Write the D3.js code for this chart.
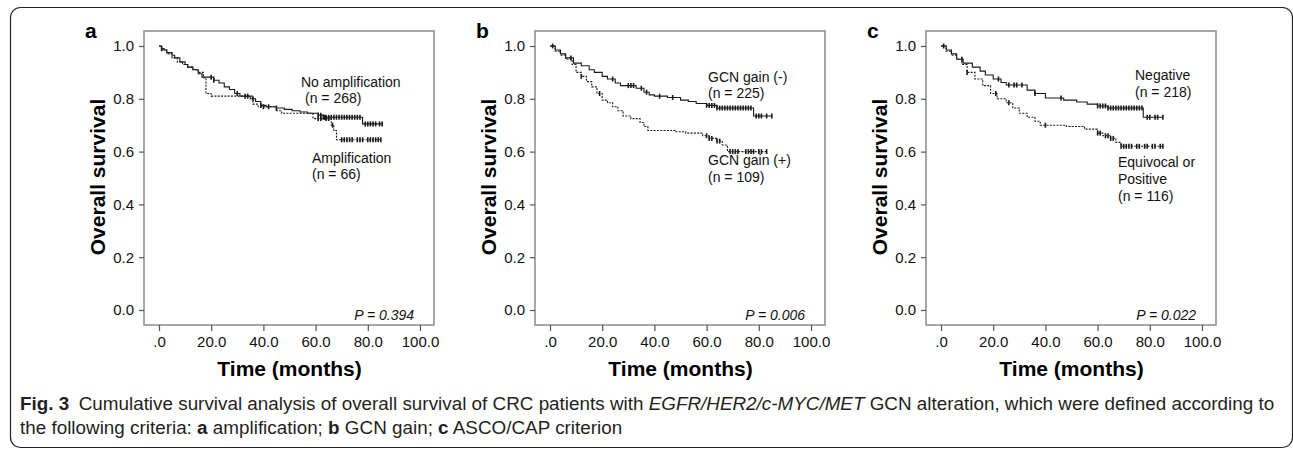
<!DOCTYPE html>
<html lang="en">
<head>
<meta charset="UTF-8">
<title>Fig. 3 Kaplan-Meier curves</title>
<script src="https://d3js.org/d3.v7.min.js"></script>
<style>
    body { margin: 0; background: #fff; }
    svg text { font-family: 'Liberation Sans', Arial, sans-serif; }
</style>
</head>
<body>
<svg id="fig" width="1293" height="449"></svg>
<script>
// ---- data: [months, survival] at each event ----
const panelIds = ["a", "b", "c"];
const pValues = ["0.394", "0.006", "0.022"];
const xTicks = [0, 20, 40, 60, 80, 100];
const yTicks = [0, 0.2, 0.4, 0.6, 0.8, 1.0];

// panel a
const aSolid = [[0,1],[1,0.99],[2,0.985],[3,0.975],[5,0.965],[6,0.955],[8,0.94],[10,0.93],[11,0.92],[13,0.91],[15,0.895],[16.5,0.882],[21,0.87],[23,0.86],[25,0.845],[27,0.835],[29,0.82],[31,0.81],[35,0.8],[37,0.79],[39,0.775],[41,0.77],[45,0.765],[48,0.76],[51,0.755],[54,0.75],[57,0.745],[61,0.738],[63,0.73],[78,0.705]];
const aSolidCens = [1,20,21,30,33,34,36,39,45,61,62,63,63.5,64,65,66,67,68,69,70,71,72,73,74,75,76,77,79,80,81,82,83,84.5,85.5];
const aDashed = [[0,1],[1,0.985],[3,0.97],[5,0.955],[7,0.94],[9,0.93],[11,0.92],[13,0.91],[15,0.9],[17,0.88],[18,0.82],[20,0.81],[36,0.78],[38,0.77],[45,0.755],[47,0.745],[59,0.725],[66,0.7],[67,0.68],[68,0.645]];
const aDashedCens = [40,42,61,62,64,65,66.5,70,71,72,73,74,76,77,78,80,81,82,83,84,85];

// panel b
const bSolid = [[0,1],[2,0.985],[4,0.97],[6,0.955],[9,0.935],[12,0.925],[15,0.91],[17,0.9],[20,0.885],[22,0.875],[25,0.86],[27,0.85],[33,0.84],[36,0.825],[38,0.815],[40,0.81],[45,0.805],[50,0.795],[53,0.79],[56,0.782],[60,0.775],[64,0.765],[78,0.735]];
const bSolidCens = [1,8,24,30,31,32,35,37,42,47,60,61,62,63,64,65,66,67,68,69,70,71,72,73,74,75,76,77,79,80,81,83,85];
const bDashed = [[0,1],[2,0.98],[4,0.965],[6,0.95],[8.5,0.93],[10,0.9],[12,0.885],[14,0.865],[16,0.845],[18,0.82],[20,0.795],[22,0.785],[24,0.77],[26,0.755],[28,0.735],[31,0.725],[34.5,0.71],[36,0.695],[37.5,0.68],[48,0.675],[52,0.67],[58.5,0.66],[61,0.65],[64,0.64],[66,0.625],[68,0.6]];
const bDashedCens = [12,19,60,61,62,64,65,69,70,71,72,75,76,77,78,80,81,83];

// panel c
const cSolid = [[0,1],[2,0.985],[4,0.97],[6,0.95],[8.5,0.935],[12,0.92],[15,0.905],[17,0.89],[20,0.875],[23,0.862],[25,0.852],[33,0.833],[36,0.82],[40,0.803],[47,0.795],[52,0.788],[56,0.78],[60,0.773],[64,0.765],[77.5,0.73]];
const cSolidCens = [1,8,22,26,28,29,31,36,46,60,61,62,63,64,65,66,67,68,69,70,71,72,73,74,75,76,77,79,80,82,83,85];
const cDashed = [[0,1],[2,0.98],[4,0.965],[6,0.95],[8,0.93],[10,0.9],[13,0.875],[16,0.85],[19,0.82],[21.5,0.8],[25,0.785],[27.5,0.765],[30,0.745],[33,0.73],[36,0.715],[38,0.7],[48,0.695],[55,0.685],[60,0.67],[62,0.66],[65,0.65],[67,0.635],[69,0.62]];
const cDashedCens = [10,21,26,40,60,61,63,64,65,66,69,70,71,72,73,75,76,78,79,81,82,84,85];

const solidSeries = [aSolid, bSolid, cSolid];
const solidCens = [aSolidCens, bSolidCens, cSolidCens];
const dashedSeries = [aDashed, bDashed, cDashed];
const dashedCens = [aDashedCens, bDashedCens, cDashedCens];

// group labels: [text, x, baseline] relative to each panel
const groupLabels = [
    [["No amplification", 301, 87], ["(n = 268)", 305, 103], ["Amplification", 312, 163], ["(n = 66)", 312, 179]],
    [["GCN gain (-)", 317, 82], ["(n = 225)", 317, 98], ["GCN gain (+)", 317, 165], ["(n = 109)", 317, 182]],
    [["Negative", 353, 80], ["(n = 218)", 353, 97], ["Equivocal or", 336, 167], ["Positive", 336, 184], ["(n = 116)", 336, 201]]
];

const svg = d3.select("#fig");
const panelStep = 391;
const frame = { left: 144, right: 434, top: 31, bottom: 325 };

// outer rounded box
svg.append("rect")
    .attr("x", 10.5).attr("y", 7.5)
    .attr("width", 1282).attr("height", 440)
    .attr("rx", 10)
    .attr("fill", "none").attr("stroke", "#222").attr("stroke-width", 1.2);

const x = d3.scaleLinear().domain([0, 100]).range([159, 420]);
const y = d3.scaleLinear().domain([0, 1]).range([310, 46]);

const line = d3.line()
    .x(d => x(d[0]))
    .y(d => y(d[1]))
    .curve(d3.curveStepAfter);

const bis = d3.bisector(d => d[0]).right;
function survAt(series, t) {
    return series[Math.max(0, bis(series, t) - 1)][1];
}
function withTail(series, cens) {
    const last = series[series.length - 1];
    const end = d3.max(cens);
    return end > last[0] ? series.concat([[end, last[1]]]) : series;
}

panelIds.forEach((id, i) => {
    const g = svg.append("g").attr("transform", `translate(${i * panelStep},0)`);

    g.append("rect")
        .attr("x", frame.left).attr("y", frame.top)
        .attr("width", frame.right - frame.left)
        .attr("height", frame.bottom - frame.top)
        .attr("fill", "none").attr("stroke", "#8a8a8a").attr("stroke-width", 1.5);

    const yAxis = g.append("g")
        .attr("transform", `translate(${frame.left},0)`)
        .call(d3.axisLeft(y).tickValues(yTicks).tickFormat(d3.format(".1f")).tickSize(5).tickPadding(5));
    const xAxis = g.append("g")
        .attr("transform", `translate(0,${frame.bottom})`)
        .call(d3.axisBottom(x).tickValues(xTicks).tickFormat(d => d === 0 ? ".0" : d.toFixed(1)).tickSize(6).tickPadding(5));
    [yAxis, xAxis].forEach(ax => {
        ax.select(".domain").remove();
        ax.selectAll("line").attr("stroke", "#555").attr("stroke-width", 1.2);
        ax.selectAll("text").attr("font-size", 15).attr("fill", "#111");
    });

    // curves
    const curves = [
        { data: dashedSeries[i], cens: dashedCens[i], dash: "2,1.3" },
        { data: solidSeries[i], cens: solidCens[i], dash: null }
    ];
    curves.forEach(c => {
        const full = withTail(c.data, c.cens);
        g.append("path")
            .attr("d", line(full))
            .attr("fill", "none")
            .attr("stroke", "#1a1a1a")
            .attr("stroke-width", 1.1)
            .attr("stroke-dasharray", c.dash);
        g.selectAll(null)
            .data(c.cens)
            .join("line")
            .attr("x1", t => x(t)).attr("x2", t => x(t))
            .attr("y1", t => y(survAt(c.data, t)) - 2.5)
            .attr("y2", t => y(survAt(c.data, t)) + 2.5)
            .attr("stroke", "#1a1a1a").attr("stroke-width", 1.6);
    });

    groupLabels[i].forEach(([txt, lx, ly]) => {
        g.append("text").attr("x", lx).attr("y", ly)
            .attr("font-size", 14).attr("fill", "#111").text(txt);
    });

    g.append("text")
        .attr("x", 414).attr("y", 320)
        .attr("text-anchor", "end")
        .attr("font-size", 14).attr("font-style", "italic").attr("fill", "#111")
        .text(`P = ${pValues[i]}`);

    // panel letter
    g.append("text").attr("x", 85).attr("y", 38)
        .attr("font-size", 21).attr("font-weight", "bold").text(id);

    // axis titles
    g.append("text")
        .attr("transform", "translate(105,177) rotate(-90)")
        .attr("text-anchor", "middle")
        .attr("font-size", 21).attr("font-weight", "bold")
        .text("Overall survival");
    g.append("text")
        .attr("x", x(50)).attr("y", 376)
        .attr("text-anchor", "middle")
        .attr("font-size", 21).attr("font-weight", "bold")
        .text("Time (months)");
});

// caption, squeezed to the width of the original condensed type
const cap = svg.append("g").attr("class", "caption")
    .attr("fill", "#231f20").attr("font-size", 18.5);

const l1 = cap.append("text").attr("x", 0).attr("y", 410);
l1.append("tspan").attr("font-weight", "bold").text("Fig. 3");
l1.append("tspan").text("\u2002Cumulative survival analysis of overall survival of CRC patients with ");
l1.append("tspan").attr("font-style", "italic").text("EGFR/HER2/c-MYC/MET");
l1.append("tspan").text(" GCN alteration, which were defined according to");

const l2 = cap.append("text").attr("x", 0).attr("y", 434);
l2.append("tspan").text("the following criteria: ");
l2.append("tspan").attr("font-weight", "bold").text("a");
l2.append("tspan").text(" amplification; ");
l2.append("tspan").attr("font-weight", "bold").text("b");
l2.append("tspan").text(" GCN gain; ");
l2.append("tspan").attr("font-weight", "bold").text("c");
l2.append("tspan").text(" ASCO/CAP criterion");

const capWidth = l1.node().getComputedTextLength();
const sx = 1255 / capWidth;
cap.attr("transform", `translate(20,0) scale(${sx},1)`);
</script>
</body>
</html>
